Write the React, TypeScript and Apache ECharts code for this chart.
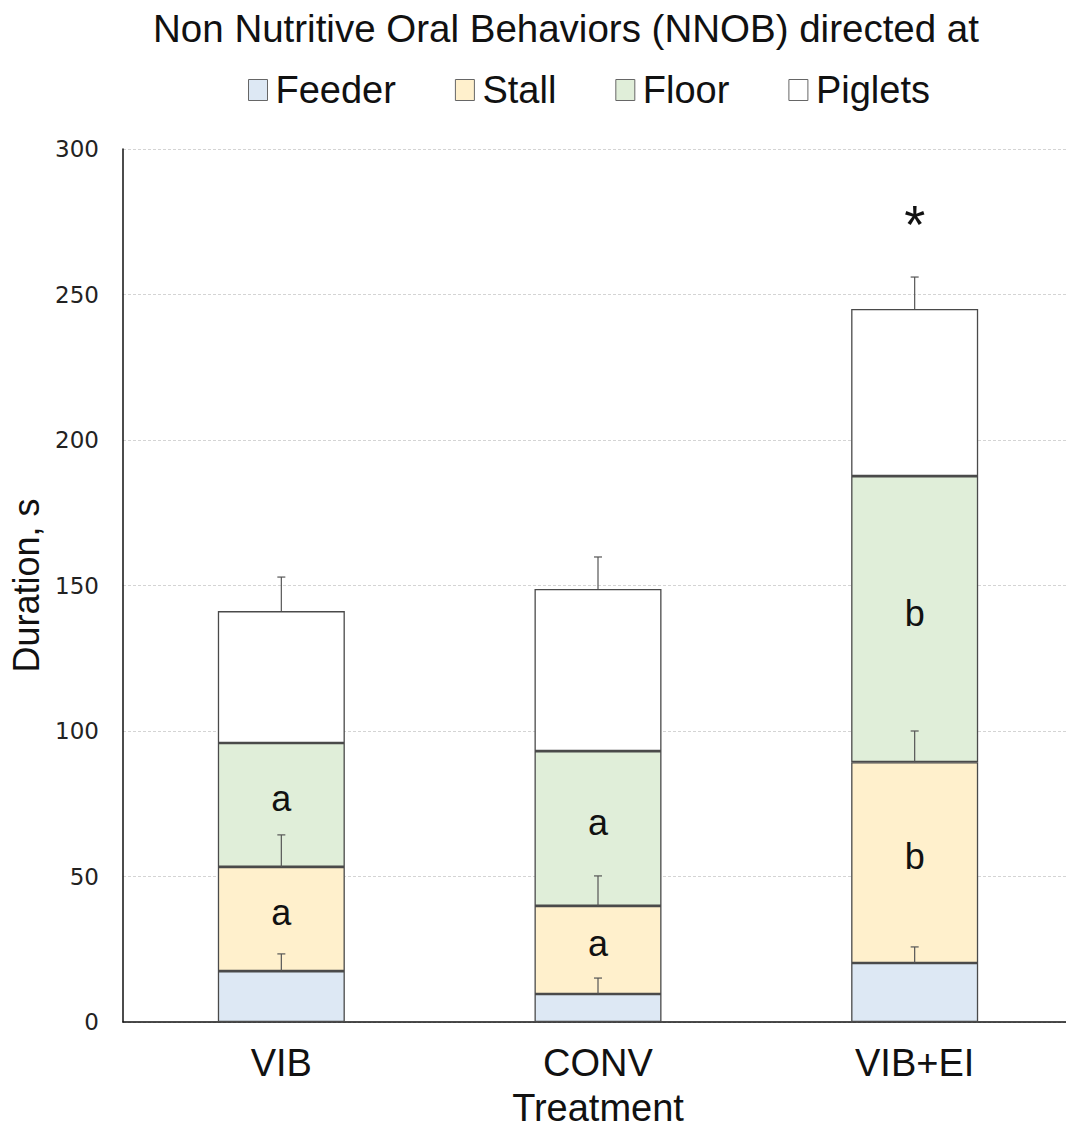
import React, { useEffect, useRef } from "react";
import * as echarts from "echarts";

const categories = ["VIB", "CONV", "VIB+EI"];
const legendNames = ["Feeder", "Stall", "Floor", "Piglets"];
const feeder = [17.5, 9.6, 20.3];
const stall = [35.8, 30.3, 69.0];
const floor = [42.6, 53.2, 98.3];
const piglets = [45.3, 55.7, 57.4];
const feederErr = [5.9, 5.5, 5.5];
const stallErr = [11.0, 10.3, 10.7];
const pigletsErr = [11.7, 11.0, 11.0];
const stallLetters = ["a", "a", "b"];
const floorLetters = ["a", "a", "b"];
const totalMarks = ["", "", "*"];
const yTicks = [0, 50, 100, 150, 200, 250, 300];

const colors = ["#dde8f4", "#fff0cc", "#e0eed9", "#ffffff"];

export default function App() {
  const ref = useRef<HTMLDivElement>(null);
  useEffect(() => {
    if (!ref.current) return;
    const chart = echarts.init(ref.current, undefined, { renderer: "svg" });
    const seriesVals = [feeder, stall, floor, piglets];
    const tops: number[][] = [];
    let acc = categories.map(() => 0);
    seriesVals.forEach((s) => {
      acc = acc.map((a, i) => a + s[i]);
      tops.push(acc.slice());
    });
    const errData: number[][] = [];
    categories.forEach((_, i) => {
      errData.push([i, tops[0][i], tops[0][i] + feederErr[i]]);
      errData.push([i, tops[1][i], tops[1][i] + stallErr[i]]);
      errData.push([i, tops[3][i], tops[3][i] + pigletsErr[i]]);
    });
    const font = "'Liberation Sans', Arial, sans-serif";
    const letterLabel = (arr: string[]) => ({
      show: true,
      position: "inside",
      offset: [0, -6],
      formatter: (p: any) => arr[p.dataIndex],
      fontSize: 36,
      color: "#111",
      fontFamily: font,
    });
    chart.setOption({
      animation: false,
      title: {
        text: "Non Nutritive Oral Behaviors (NNOB) directed at",
        left: 561,
        textAlign: "center",
        top: 4,
        textStyle: { fontSize: 38.5, fontWeight: "normal", color: "#111", fontFamily: font },
      },
      legend: {
        data: legendNames,
        top: 66,
        left: 243,
        itemWidth: 19,
        itemHeight: 21,
        itemGap: 59,
        icon: "rect",
        textStyle: { fontSize: 38, color: "#111", fontFamily: font, padding: [0, 0, 0, 3] },
        itemStyle: { borderColor: "#666", borderWidth: 1 },
      },
      grid: { left: 123, top: 149, width: 950, height: 873, containLabel: false, outerBoundsMode: "none" },
      xAxis: {
        type: "category",
        data: categories,
        name: "Treatment",
        nameLocation: "middle",
        nameGap: 67,
        nameTextStyle: { fontSize: 38, color: "#111", fontFamily: font },
        axisLine: { lineStyle: { color: "#111", width: 1.5 } },
        axisTick: { show: false },
        axisLabel: { fontSize: 38, color: "#111", fontFamily: font, margin: 22 },
      },
      yAxis: {
        type: "value",
        min: 0,
        max: 300,
        interval: 50,
        name: "Duration, s",
        nameLocation: "middle",
        nameGap: 78,
        nameTextStyle: { fontSize: 36, color: "#111", fontFamily: font },
        axisLine: { show: true, lineStyle: { color: "#111", width: 1.5 } },
        axisTick: { show: false },
        axisLabel: {
          fontSize: 23,
          color: "#222",
          fontFamily: "'DejaVu Sans', sans-serif",
          margin: 24,
          formatter: (v: number) => (yTicks.includes(v) ? String(v) : ""),
        },
        splitLine: { lineStyle: { color: "#d4d4d4", type: [3, 2], width: 1 } },
      },
      series: [
        ...legendNames.map((name, k) => ({
          name,
          type: "bar",
          stack: "total",
          data: seriesVals[k],
          barWidth: 127,
          itemStyle: { color: colors[k], borderColor: "#4a4a4a", borderWidth: 1.3 },
          label:
            k === 1
              ? letterLabel(stallLetters)
              : k === 2
              ? letterLabel(floorLetters)
              : k === 3
              ? {
                  show: true,
                  position: "top",
                  distance: 58,
                  formatter: (p: any) => totalMarks[p.dataIndex],
                  fontSize: 54,
                  color: "#111",
                  fontFamily: font,
                }
              : { show: false },
        })),
        {
          type: "custom",
          name: "err",
          z: 10,
          data: errData,
          encode: { x: 0, y: [1, 2] },
          renderItem: (params: any, api: any) => {
            const base = api.coord([api.value(0), api.value(1)]);
            const top = api.coord([api.value(0), api.value(2)]);
            const style = { stroke: "#555", lineWidth: 1.2 };
            return {
              type: "group",
              children: [
                { type: "line", shape: { x1: base[0], y1: base[1], x2: top[0], y2: top[1] }, style },
                { type: "line", shape: { x1: top[0] - 4, y1: top[1], x2: top[0] + 4, y2: top[1] }, style },
              ],
            };
          },
        },
      ],
    });
    return () => chart.dispose();
  }, []);
  return (
    <div
      ref={ref}
      style={{ position: "fixed", left: 0, top: 0, width: 1066, height: 1130, background: "#fff" }}
    />
  );
}
